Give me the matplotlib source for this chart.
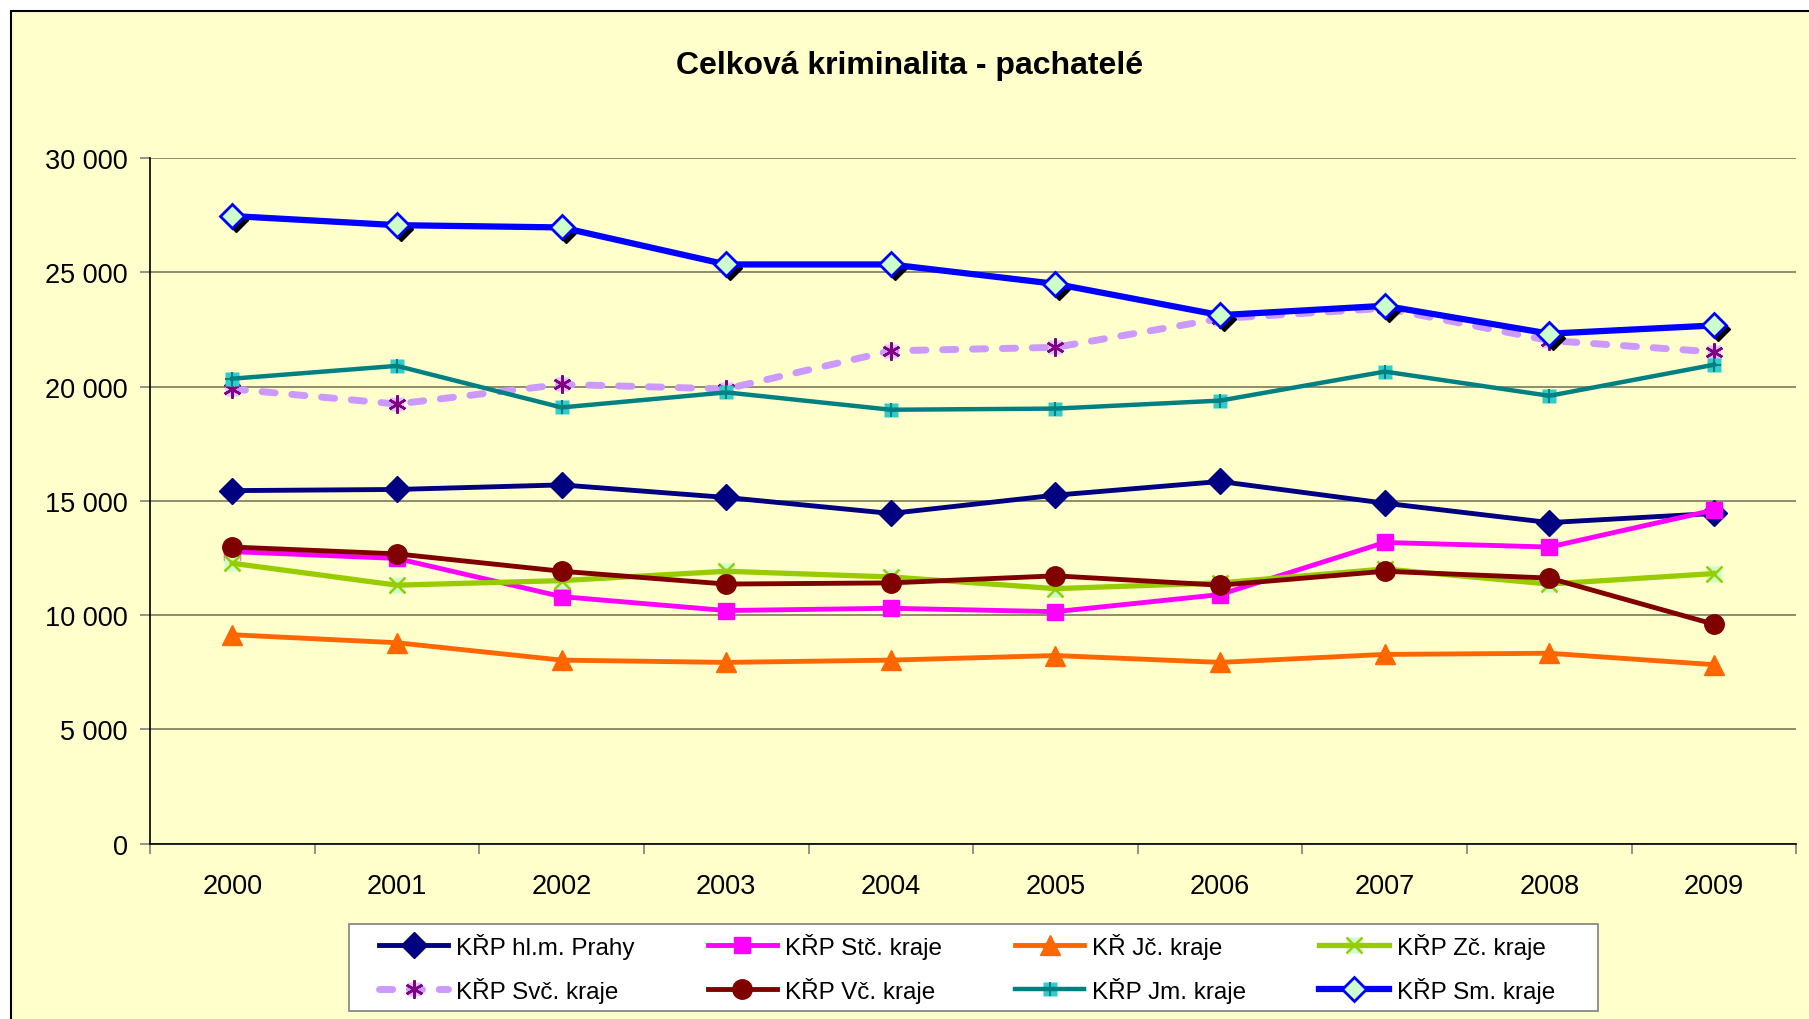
import matplotlib
matplotlib.use("Agg")
import matplotlib.pyplot as plt
from matplotlib.patches import Rectangle
from matplotlib.ticker import FuncFormatter, FixedLocator
from matplotlib.transforms import offset_copy

plt.rcParams['font.family'] = ['Liberation Sans', 'DejaVu Sans']

# data
years = ["2000", "2001", "2002", "2003", "2004", "2005", "2006", "2007", "2008", "2009"]
prahy = [15450, 15500, 15700, 15150, 14450, 15250, 15850, 14900, 14050, 14450]
stc = [12780, 12480, 10810, 10200, 10300, 10150, 10900, 13180, 12980, 14600]
jc = [9140, 8790, 8030, 7930, 8030, 8230, 7930, 8280, 8330, 7830]
zc = [12270, 11310, 11510, 11920, 11670, 11160, 11410, 12020, 11360, 11820]
svc = [19900, 19240, 20100, 19900, 21570, 21720, 22980, 23430, 22020, 21520]
vc = [12980, 12680, 11920, 11360, 11410, 11720, 11310, 11920, 11620, 9600]
jm = [20350, 20910, 19090, 19750, 18990, 19040, 19390, 20660, 19600, 20960]
sm = [27470, 27070, 26970, 25350, 25350, 24500, 23130, 23540, 22320, 22680]

bg = '#FFFFCC'
fig = plt.figure(figsize=(18.09, 10.2), dpi=100, facecolor='white')
# chart area with border
fig.patches.append(Rectangle((0.0061, -0.02), 1.05, 0.9882 + 0.02, transform=fig.transFigure,
                             facecolor=bg, edgecolor='black', linewidth=1.5, zorder=-5))
# legend box
fig.patches.append(Rectangle((0.1932, 0.0079), 0.8833 - 0.1932, 0.0928 - 0.0079,
                             transform=fig.transFigure, facecolor='white',
                             edgecolor='#808080', linewidth=1.2, zorder=-4))

ax = fig.add_axes([0.0829, 0.172, 0.993 - 0.0829, 0.8439 - 0.172])
ax.set_facecolor(bg)
x = range(len(years))

l1, = ax.plot(x, prahy, color='#000080', lw=3.5, marker='D', ms=13, label='KŘP hl.m. Prahy', zorder=3)
l2, = ax.plot(x, stc, color='#FF00FF', lw=3.5, marker='s', ms=12, label='KŘP Stč. kraje', zorder=3)
l3, = ax.plot(x, jc, color='#FF6600', lw=3.5, marker='^', ms=14, label='KŘ Jč. kraje', zorder=3)
z_bg, = ax.plot(x, zc, ls='none', marker='s', ms=11, mfc='#CCFFCC', mec='none', zorder=3)
l4, = ax.plot(x, zc, color='#99CC00', lw=3.8, marker='x', ms=11, mew=1.8, label='KŘP Zč. kraje', zorder=3)
s_bg, = ax.plot(x, svc, ls='none', marker='s', ms=10, mfc='#D9C8FF', mec='none', zorder=3)
l5, = ax.plot(x, svc, color='#CC99FF', lw=5, ls=(0, (1.9, 2.4)), dash_capstyle='round',
              marker=(6, 2, 0), ms=13, mec='#800080', mew=1.8, label='KŘP Svč. kraje', zorder=3)
l6, = ax.plot(x, vc, color='#800000', lw=3.5, marker='o', ms=14, label='KŘP Vč. kraje', zorder=3)
j_bg, = ax.plot(x, jm, ls='none', marker='s', ms=10, mfc='#33CCCC', mec='none', zorder=3)
l7, = ax.plot(x, jm, color='#008080', lw=3.2, marker='+', ms=10, mew=1.5, label='KŘP Jm. kraje', zorder=3)
# shadow of the diamonds
shadow = offset_copy(ax.transData, fig=fig, x=4, y=-4, units='dots')
ax.plot(x, sm, ls='none', marker='D', ms=12, color='black', transform=shadow, zorder=3)
l8, = ax.plot(x, sm, color='#0000FF', lw=4.5, marker='D', ms=12, mfc='#CCFFCC', mec='#0000FF',
              mew=2, label='KŘP Sm. kraje', zorder=4)

ax.set_xlim(-0.5, len(years) - 0.5)
ax.set_ylim(0, 30000)
ax.set_yticks(range(0, 30001, 5000))
ax.yaxis.set_major_formatter(FuncFormatter(lambda v, p: f"{int(v):,}".replace(",", " ")))
ax.set_xticks(list(x))
ax.set_xticklabels(years)
ax.xaxis.set_minor_locator(FixedLocator([i - 0.5 for i in range(len(years) + 1)]))
ax.tick_params(axis='x', which='major', length=0, pad=21, labelsize=19.5)
ax.tick_params(axis='x', which='minor', length=7, color='#808080', width=1.2)
ax.tick_params(axis='y', length=7, width=1.2, color='#808080', pad=9, labelsize=19.5)
ax.grid(axis='y', color='#7a7a5c', lw=1.2)
ax.set_axisbelow(True)
for s in ['top', 'right']:
    ax.spines[s].set_visible(False)
for s in ['left', 'bottom']:
    ax.spines[s].set_color('black')
    ax.spines[s].set_linewidth(1.2)

fig.text(0.503, 0.935, 'Celková kriminalita - pachatelé', ha='center', va='center',
         fontsize=23, fontweight='bold')

handles = [l1, (s_bg, l5), l2, l6, l3, (j_bg, l7), (z_bg, l4), l8]
labels = ['KŘP hl.m. Prahy', 'KŘP Svč. kraje', 'KŘP Stč. kraje', 'KŘP Vč. kraje',
          'KŘ Jč. kraje', 'KŘP Jm. kraje', 'KŘP Zč. kraje', 'KŘP Sm. kraje']
leg = fig.legend(handles, labels, ncol=4, loc='center left',
                 bbox_to_anchor=(0.2028, 0.0503), bbox_transform=fig.transFigure,
                 fontsize=17.5, frameon=False, handlelength=2.85,
                 handletextpad=0.33, borderpad=0, columnspacing=3.0, labelspacing=0.75)

fig.savefig('out.png', dpi=100, facecolor='white')
